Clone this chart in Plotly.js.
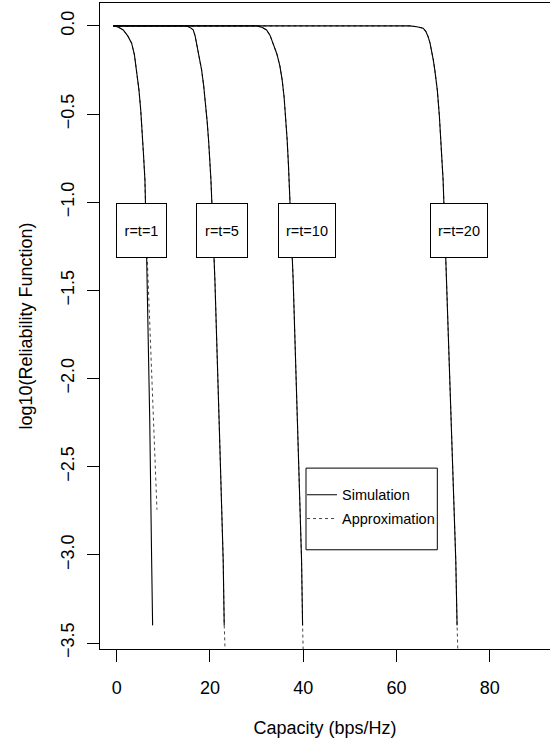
<!DOCTYPE html>
<html>
<head>
<meta charset="utf-8">
<script src="https://cdn.plot.ly/plotly-3.0.1.min.js"></script>
<style>html,body{margin:0;padding:0;background:#fff;}</style>
</head>
<body>
<div id="chart" style="width:550px;height:751px;"></div>
<script>
// ---- data ----
const labels = ["r=t=1", "r=t=5", "r=t=10", "r=t=20"];

// r = t = 1
const sim1_x = [-0.7, -0.36, 0.49, 1.41, 2.38, 3.21, 3.81, 4.29, 4.78, 5.16, 5.49, 5.76, 5.94, 6.06, 6.32, 6.54, 7.09, 7.50, 7.71];
const sim1_y = [0, 0, -0.0085, -0.0227, -0.0567, -0.098, -0.164, -0.249, -0.363, -0.476, -0.590, -0.731, -0.816, -0.873, -1.156, -1.44, -2.234, -3.03, -3.40];
const apx1_x = [-0.7, -0.36, 0.49, 1.41, 2.38, 3.21, 3.81, 4.29, 4.78, 5.16, 5.49, 5.76, 5.94, 6.06, 6.32, 6.71, 7.20, 7.71, 8.21, 8.64];
const apx1_y = [0, 0, -0.0085, -0.0227, -0.0567, -0.098, -0.164, -0.249, -0.363, -0.476, -0.590, -0.731, -0.816, -0.873, -1.156, -1.44, -1.78, -2.12, -2.46, -2.744];

// r = t = 5
const sim5_x = [-0.7, 15.0, 15.71, 16.41, 16.82, 17.14, 17.70, 18.21, 18.66, 19.05, 19.41, 19.73, 19.99, 20.21, 20.64, 21.06, 21.96, 22.84, 23.06];
const sim5_y = [0, 0, -0.0085, -0.0227, -0.0567, -0.098, -0.170, -0.249, -0.340, -0.437, -0.544, -0.658, -0.765, -0.873, -1.156, -1.44, -2.234, -3.03, -3.40];
const apx5_x = [-0.7, 15.0, 15.71, 16.41, 16.82, 17.14, 17.70, 18.21, 18.66, 19.05, 19.41, 19.73, 19.99, 20.21, 20.64, 21.06, 21.96, 22.84, 23.06, 23.32];
const apx5_y = [0, 0, -0.0085, -0.0227, -0.0567, -0.098, -0.170, -0.249, -0.340, -0.437, -0.544, -0.658, -0.765, -0.873, -1.156, -1.44, -2.234, -3.03, -3.40, -3.594];

// r = t = 10
const sim10_x = [-0.7, 30.0, 31.13, 32.14, 32.89, 33.55, 34.35, 34.99, 35.48, 35.89, 36.23, 36.55, 36.83, 36.98, 37.41, 37.84, 38.74, 39.64, 39.86];
const sim10_y = [0, 0, -0.0074, -0.0227, -0.0539, -0.098, -0.159, -0.227, -0.306, -0.402, -0.516, -0.646, -0.788, -0.873, -1.156, -1.44, -2.234, -3.03, -3.40];
const apx10_x = [-0.7, 30.0, 31.13, 32.14, 32.89, 33.55, 34.35, 34.99, 35.48, 35.89, 36.23, 36.55, 36.83, 36.98, 37.41, 37.84, 38.74, 39.64, 39.86, 40.03];
const apx10_y = [0, 0, -0.0074, -0.0227, -0.0539, -0.098, -0.159, -0.227, -0.306, -0.402, -0.516, -0.646, -0.788, -0.873, -1.156, -1.44, -2.234, -3.03, -3.40, -3.594];

// r = t = 20
const sim20_x = [-0.7, 62.85, 64.35, 65.70, 66.27, 66.77, 67.17, 67.50, 67.88, 68.20, 68.74, 69.17, 69.49, 69.77, 69.98, 70.35, 70.71, 71.70, 72.70, 72.98];
const sim20_y = [0, 0, -0.0045, -0.013, -0.031, -0.061, -0.096, -0.136, -0.193, -0.249, -0.363, -0.505, -0.646, -0.771, -0.873, -1.156, -1.44, -2.234, -3.03, -3.40];
const apx20_x = [-0.7, 62.85, 64.35, 65.70, 66.27, 66.77, 67.17, 67.50, 67.88, 68.20, 68.74, 69.17, 69.49, 69.77, 69.98, 70.35, 70.71, 71.70, 72.70, 72.98, 73.20];
const apx20_y = [0, 0, -0.0045, -0.013, -0.031, -0.061, -0.096, -0.136, -0.193, -0.249, -0.363, -0.505, -0.646, -0.771, -0.873, -1.156, -1.44, -2.234, -3.03, -3.40, -3.594];

const xTicks = [0, 20, 40, 60, 80];
const yTicks = [0, -0.5, -1, -1.5, -2, -2.5, -3, -3.5];
const yTickText = ["0.0", "\u22120.5", "\u22121.0", "\u22121.5", "\u22122.0", "\u22122.5", "\u22123.0", "\u22123.5"];

// ---- build traces ----
const sims = [[sim1_x, sim1_y], [sim5_x, sim5_y], [sim10_x, sim10_y], [sim20_x, sim20_y]];
const apxs = [[apx1_x, apx1_y], [apx5_x, apx5_y], [apx10_x, apx10_y], [apx20_x, apx20_y]];

const traces = [];
apxs.forEach((d, i) => {
  traces.push({
    x: d[0], y: d[1], type: "scatter", mode: "lines",
    name: "Approximation", legendgroup: "apx", showlegend: i === 0, legendrank: 2,
    line: {color: "#444", width: 1, dash: "dot"}, hoverinfo: "skip"
  });
});
sims.forEach((d, i) => {
  traces.push({
    x: d[0], y: d[1], type: "scatter", mode: "lines",
    name: "Simulation", legendgroup: "sim", showlegend: i === 0, legendrank: 1,
    line: {color: "#000", width: 1.1}, hoverinfo: "skip"
  });
});

const labelPos = [[5.42, 51], [22.67, 52], [40.88, 58], [73.38, 58]];
const annotations = labels.map((t, i) => ({
  text: t, x: labelPos[i][0], y: -1.159, xref: "x", yref: "y",
  showarrow: false, width: labelPos[i][1] - 2, height: 53,
  bgcolor: "#fff", bordercolor: "#000", borderwidth: 1, borderpad: 0,
  font: {size: 14.5, color: "#000"}, align: "center", valign: "middle"
}));

const FONT = "Liberation Sans, Arial, Helvetica, sans-serif";

const layout = {
  width: 550, height: 751,
  margin: {l: 100, r: 0, t: 3, b: 102},
  paper_bgcolor: "#fff", plot_bgcolor: "#fff",
  font: {family: FONT, size: 18, color: "#000"},
  showlegend: true,
  legend: {
    x: 0.449, y: 0.2635, xanchor: "left", yanchor: "top",
    bgcolor: "rgba(0,0,0,0)", borderwidth: 0,
    font: {size: 14.5}, itemwidth: 30, tracegroupgap: 2,
    traceorder: "grouped"
  },
  shapes: [{
    type: "rect", xref: "paper", yref: "paper",
    x0: 0.4578, x1: 0.7496, y0: 0.1536, y1: 0.280,
    line: {color: "#000", width: 1}, fillcolor: "#fff", layer: "below"
  }],
  xaxis: {
    range: [-3.57, 92.9], tickvals: xTicks, ticktext: xTicks.map(String),
    ticks: "outside", ticklen: 12, tickcolor: "#000", tickwidth: 1,
    showline: true, mirror: true, linecolor: "#000", linewidth: 1,
    showgrid: false, zeroline: false, ticklabelstandoff: 10,
    tickfont: {size: 18},
    title: {text: "Capacity (bps/Hz)", font: {size: 18}, standoff: 24},
    automargin: false
  },
  yaxis: {
    range: [-3.534, 0.13], tickvals: yTicks, ticktext: yTickText,
    ticks: "outside", ticklen: 12, tickcolor: "#000", tickwidth: 1,
    showline: true, mirror: false, linecolor: "#000", linewidth: 1,
    showgrid: false, zeroline: false, tickangle: -90, ticklabelstandoff: 6,
    tickfont: {size: 18},
    title: {text: "log10(Reliability Function)", font: {size: 18}, standoff: 20},
    automargin: false
  },
  annotations: annotations
};

Plotly.newPlot("chart", traces, layout, {staticPlot: true, displayModeBar: false});
</script>
</body>
</html>
